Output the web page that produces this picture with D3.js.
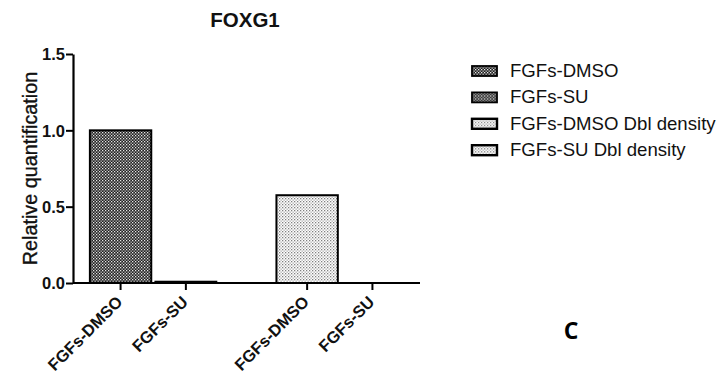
<!DOCTYPE html>
<html>
<head>
<meta charset="utf-8">
<script src="https://cdn.jsdelivr.net/npm/d3@7/dist/d3.min.js"></script>
<style>
  html, body { margin: 0; padding: 0; background: #fff; }
  svg { display: block; }
</style>
</head>
<body>
<div id="chart"></div>
<script>
// ---- data ----
const title = "FOXG1";
const yLabel = "Relative quantification";
const groups = ["Single density", "Dbl density"];
const conditions = ["FGFs-DMSO", "FGFs-SU"];
const singleDensityValues = [1.0, 0.01];
const dblDensityValues = [0.575, 0.0];
const yTicks = [0.0, 0.5, 1.0, 1.5];
const legendLabels = ["FGFs-DMSO", "FGFs-SU", "FGFs-DMSO Dbl density", "FGFs-SU Dbl density"];
const panelLetter = "C";

const W = 718, H = 376;
const svg = d3.select("#chart").append("svg").attr("width", W).attr("height", H);

// patterns
const defs = svg.append("defs");
const dark = defs.append("pattern").attr("id", "pDark").attr("patternUnits", "userSpaceOnUse")
  .attr("width", 3).attr("height", 3);
dark.append("rect").attr("width", 3).attr("height", 3).attr("fill", "#222");
dark.append("rect").attr("x", 0).attr("y", 0).attr("width", 1.3).attr("height", 1.3).attr("fill", "#e8e8e8");
dark.append("rect").attr("x", 1.5).attr("y", 1.5).attr("width", 1.3).attr("height", 1.3).attr("fill", "#d0d0d0");
const light = defs.append("pattern").attr("id", "pLight").attr("patternUnits", "userSpaceOnUse")
  .attr("width", 3).attr("height", 3);
light.append("rect").attr("width", 3).attr("height", 3).attr("fill", "#fff");
light.append("rect").attr("x", 0).attr("y", 0).attr("width", 1.3).attr("height", 1.3).attr("fill", "#808080");
light.append("rect").attr("x", 1.5).attr("y", 1.5).attr("width", 1.3).attr("height", 1.3).attr("fill", "#a8a8a8");

const fills = ["url(#pDark)", "url(#pDark)", "url(#pLight)", "url(#pLight)"];

const x0 = 73, x1 = 420, yTop = 54, yBot = 283;
const y = d3.scaleLinear().domain([0, 1.5]).range([yBot, yTop]);
const xg = d3.scaleBand().domain(groups).range([x0, x1]).paddingInner(0.3).paddingOuter(0.08);
const xc = d3.scaleBand().domain(conditions).range([0, xg.bandwidth()]).paddingInner(0.06).paddingOuter(0.03);

const bars = [];
groups.forEach((g, gi) => {
  const vals = gi === 0 ? singleDensityValues : dblDensityValues;
  conditions.forEach((c, ci) => bars.push({ g, c, v: vals[ci], fill: fills[gi * 2 + ci] }));
});

// bars
svg.append("g").selectAll("rect").data(bars).join("rect")
  .attr("x", d => xg(d.g) + xc(d.c))
  .attr("y", d => y(d.v))
  .attr("width", xc.bandwidth())
  .attr("height", d => yBot - y(d.v))
  .attr("fill", d => d.fill)
  .attr("stroke", "#000")
  .attr("stroke-width", d => d.v > 0.02 ? 2 : 1.5)
  .attr("visibility", d => d.v > 0 ? "visible" : "hidden");

// y axis
const yAxis = svg.append("g").attr("transform", `translate(${x0},0)`)
  .call(d3.axisLeft(y).tickValues(yTicks).tickFormat(d3.format(".1f")).tickSize(7).tickSizeOuter(0));
yAxis.select(".domain").attr("stroke", "#000").attr("stroke-width", 2.2);
yAxis.selectAll(".tick line").attr("stroke", "#000").attr("stroke-width", 2);
yAxis.selectAll(".tick text").attr("font-family", "Liberation Sans, Arial, sans-serif")
  .attr("font-size", 16.5).attr("font-weight", "bold").attr("fill", "#111").attr("x", -8).attr("dy", "0.36em");

// x axis
const xPos = [];
groups.forEach(g => conditions.forEach(c => xPos.push({ g, c, x: xg(g) + xc(c) + xc.bandwidth() / 2 })));
const xAxisG = svg.append("g");
xAxisG.append("line").attr("x1", x0).attr("x2", x1).attr("y1", yBot).attr("y2", yBot)
  .attr("stroke", "#000").attr("stroke-width", 2.2);
xAxisG.selectAll("line.tk").data(xPos).join("line").attr("class", "tk")
  .attr("x1", d => d.x).attr("x2", d => d.x).attr("y1", yBot).attr("y2", yBot + 7)
  .attr("stroke", "#000").attr("stroke-width", 2);
xAxisG.selectAll("text").data(xPos).join("text")
  .attr("transform", d => `translate(${d.x + 3},${yBot + 20}) rotate(-45)`)
  .attr("text-anchor", "end")
  .attr("font-family", "Liberation Sans, Arial, sans-serif")
  .attr("font-size", 16.5).attr("font-weight", "bold").attr("fill", "#111")
  .text(d => d.c);

// title
svg.append("text").attr("x", 245).attr("y", 27).attr("text-anchor", "middle")
  .attr("font-family", "Liberation Sans, Arial, sans-serif").attr("font-size", 20.5)
  .attr("font-weight", "bold").attr("fill", "#111").text(title);

// y label
svg.append("text").attr("transform", `translate(37,${(yTop + yBot) / 2}) rotate(-90)`)
  .attr("text-anchor", "middle")
  .attr("font-family", "Liberation Sans, Arial, sans-serif").attr("font-size", 19.8)
  .attr("fill", "#111").attr("stroke", "#111").attr("stroke-width", 0.35).text(yLabel);

// legend
const leg = svg.append("g").attr("transform", "translate(472,66)");
const legRows = leg.selectAll("g").data(legendLabels).join("g")
  .attr("transform", (d, i) => `translate(0,${i * 26.4})`);
legRows.append("rect").attr("x", 0).attr("y", 0).attr("width", 25).attr("height", 10)
  .attr("fill", (d, i) => fills[i]).attr("stroke", "#000").attr("stroke-width", (d, i) => i < 2 ? 1.8 : 2.4);
legRows.append("text").attr("x", 38).attr("y", 11)
  .attr("font-family", "Liberation Sans, Arial, sans-serif").attr("font-size", 18.6)
  .attr("fill", "#111").text(d => d);

// panel letter
svg.append("text").attr("x", 571).attr("y", 339).attr("text-anchor", "middle")
  .attr("font-family", "Open Sans, Liberation Sans, sans-serif").attr("font-size", 23)
  .attr("font-weight", "bold").attr("fill", "#000").text(panelLetter);
</script>
</body>
</html>
